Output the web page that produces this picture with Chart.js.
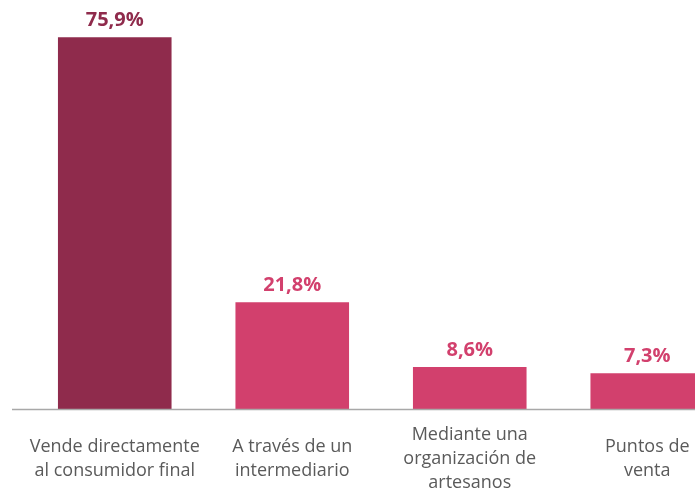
<!DOCTYPE html>
<html>
<head>
<meta charset="utf-8">
<script src="https://cdn.jsdelivr.net/npm/chart.js@4/dist/chart.umd.min.js"></script>
<style>
  html, body { margin: 0; padding: 0; background: #fff; overflow: hidden; }
  #wrap { width: 740px; height: 492px; }
</style>
</head>
<body>
<div id="wrap"><canvas id="myChart"></canvas></div>
<script>
var categorias = [
	['Vende directamente', 'al consumidor final'],
	['A través de un', 'intermediario'],
	['Mediante una', 'organización de', 'artesanos'],
	['Puntos de', 'venta']
];
var porcentajes = [75.9, 21.8, 8.6, 7.3];
var colores = ['#8f2b4c', '#d2406d', '#d2406d', '#d2406d'];
var coloresTexto = ['#8f2b4c', '#d2406d', '#d2406d', '#d2406d'];

// etiquetas encima de las barras
var etiquetas = {
	id: 'etiquetas',
	afterDatasetsDraw(chart) {
		var ctx = chart.ctx;
		var meta = chart.getDatasetMeta(0);
		ctx.save();
		ctx.font = 'bold 20px "Open Sans"';
		ctx.textAlign = 'center';
		ctx.textBaseline = 'middle';
		meta.data.forEach(function (bar, i) {
			ctx.fillStyle = coloresTexto[i];
			ctx.fillText(porcentajes[i].toFixed(1).replace('.', ',') + '%', bar.x, bar.y - 17);
		});
		ctx.restore();
	}
};

// linea base
var lineaBase = {
	id: 'lineaBase',
	afterDatasetsDraw(chart) {
		var ctx = chart.ctx;
		var y = Math.round(chart.scales.y.getPixelForValue(0)) + 0.5;
		ctx.save();
		ctx.strokeStyle = '#a8a8a8';
		ctx.lineWidth = 1.5;
		ctx.beginPath();
		ctx.moveTo(12, y);
		ctx.lineTo(chart.width, y);
		ctx.stroke();
		ctx.restore();
	}
};

var chart = new Chart(document.getElementById('myChart'), {
	type: 'bar',
	data: {
		labels: categorias,
		datasets: [{
			data: porcentajes,
			backgroundColor: colores,
			borderWidth: 0,
			barPercentage: 0.8,
			categoryPercentage: 0.8
		}]
	},
	options: {
		responsive: true,
		maintainAspectRatio: false,
		animation: false,
		layout: { padding: { left: 26, right: 4, top: 0, bottom: 0 } },
		plugins: {
			legend: { display: false },
			tooltip: { enabled: false }
		},
		scales: {
			x: {
				grid: { display: false, drawTicks: false },
				border: { display: false },
				afterFit: function (scale) { scale.height = 83; },
				ticks: {
					color: '#5a5a5a',
					font: { family: '"Open Sans"', size: 18, lineHeight: 1.3334 },
					padding: 26,
					crossAlign: 'center',
					maxRotation: 0,
					autoSkip: false
				}
			},
			y: {
				display: false,
				min: 0,
				max: 83.5
			}
		}
	},
	plugins: [etiquetas, lineaBase]
});
</script>
</body>
</html>
